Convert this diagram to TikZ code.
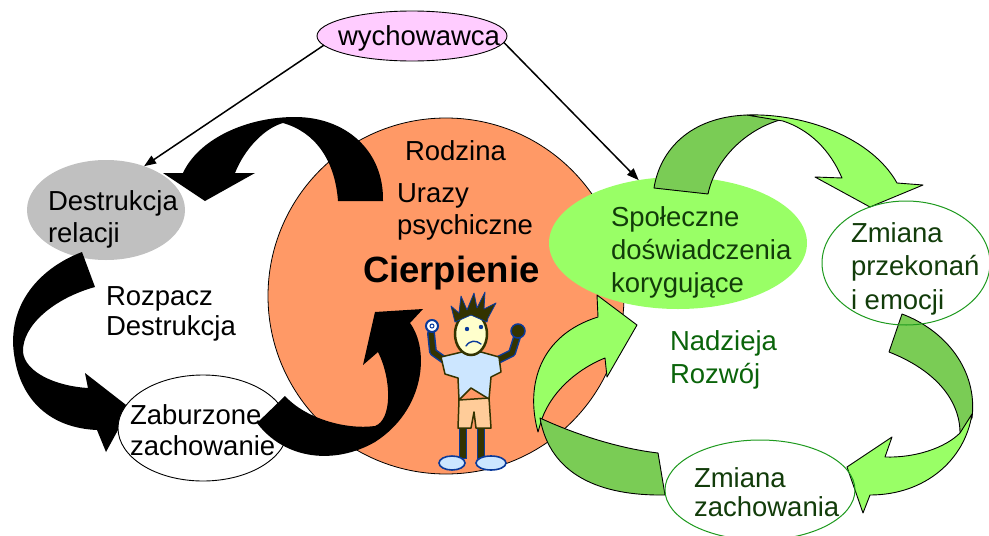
\documentclass[tikz,border=0pt]{standalone}
\usepackage{fontspec}
\setmainfont{Liberation Sans}
\usetikzlibrary{shapes.geometric,arrows.meta}
\definecolor{orangec}{HTML}{FF9966}
\definecolor{pinkc}{HTML}{FFCCFF}
\definecolor{grayc}{HTML}{C0C0C0}
\definecolor{glight}{HTML}{99FF66}
\definecolor{gdark}{HTML}{7ACC55}
\definecolor{gtext}{HTML}{123C0A}
\definecolor{gmid}{HTML}{0A640A}
\definecolor{gborder}{HTML}{1E9A1E}
\definecolor{figdark}{HTML}{333300}
\definecolor{figblue}{HTML}{0A3A9A}
\definecolor{figface}{HTML}{FFFFCC}
\definecolor{figshirt}{HTML}{CCE6FF}
\definecolor{figshorts}{HTML}{FFCC99}
\tikzset{
  shapeell/.style={ellipse, inner sep=0pt, outer sep=0pt},
  txt/.style={anchor=base west, inner sep=0pt, outer sep=0pt, font=\fontsize{27.5}{33}\selectfont},
  conn/.style={line width=1.5pt, -{Triangle[length=12pt,width=9pt]}},
  blackarrow/.style={fill=black},
  greenlight/.style={fill=glight, draw=black, line width=0.9pt, line join=round},
  greendark/.style={fill=gdark, draw=black, line width=0.9pt, line join=round},
  figline/.style={line join=round, line cap=round},
}
\begin{document}
\begin{tikzpicture}[x=1pt,y=-1pt]
\useasboundingbox (0,0) rectangle (989,536);
\fill[white] (0,0) rectangle (989,536);

% central circle
\node[circle, draw=black, line width=0.8pt, fill=orangec, minimum size=356pt, inner sep=0pt] (circ) at (446,296) {};

% ellipses
\node[shapeell, draw=black, line width=0.9pt, fill=pinkc, minimum width=190pt, minimum height=50pt] (wych) at (412,36) {};
\node[shapeell, fill=grayc, minimum width=158pt, minimum height=100pt] (destr) at (106,210) {};
\node[shapeell, fill=glight, minimum width=258pt, minimum height=132pt] (spol) at (678,243) {};

% top black arrow
\path[blackarrow] (163,173) -- (205,201) -- (255,173) -- (235,173)
  .. controls (245,148) and (265,128) .. (283,123)
  .. controls (315,132) and (335,160) .. (338,201) -- (383,201)
  .. controls (384,150) and (345,117) .. (295,117)
  .. controls (245,117) and (198,140) .. (183,173) -- cycle;

% left black arrow
\path[blackarrow] (82,252) .. controls (35,270) and (5,310) .. (15,360)
  .. controls (22,400) and (50,428) .. (97,430) -- (106,452) -- (130,408) -- (85,373) -- (88,388)
  .. controls (55,386) and (25,372) .. (23,352)
  .. controls (22,325) and (55,298) .. (95,287) -- cycle;

\node[shapeell, draw=black, line width=0.9pt, fill=white, minimum width=170pt, minimum height=106pt] (zab) at (203,428) {};

% bottom black arrow
\path[blackarrow] (285,396) .. controls (305,418) and (345,430) .. (375,426)
  .. controls (392,420) and (392,380) .. (378,352) -- (363,365) -- (375,312) -- (423,309) -- (410,323)
  .. controls (430,350) and (425,410) .. (375,442)
  .. controls (335,465) and (285,460) .. (257,423) -- cycle;

% little figure
\draw[figblue, line width=1pt, fill=figdark] (459,426) rectangle (466,458);
\draw[figblue, line width=1pt, fill=figdark] (477,426) rectangle (484,458);
\draw[figblue, line width=1.6pt, fill=figshirt] (452,463) ellipse [x radius=13pt, y radius=7pt];
\draw[figblue, line width=1.6pt, fill=figshirt] (491,463) ellipse [x radius=15pt, y radius=7pt];
\draw[figdark, line width=1.5pt, fill=figshorts, figline] (459,400) -- (489,398) -- (491,428) -- (476,428) -- (474,412) -- (471,428) -- (458,428) -- cycle;
\draw[figblue, line width=8pt, figline] (447,362) -- (433,352) -- (431,333);
\draw[figdark, line width=5pt, figline] (447,362) -- (433,352) -- (431,333);
\draw[figblue, line width=8pt, figline] (494,362) -- (512,353) -- (517,337);
\draw[figdark, line width=5pt, figline] (494,362) -- (512,353) -- (517,337);
\draw[figdark, line width=1.5pt, fill=figshirt, figline] (441,357) -- (462,352) -- (481,352) -- (499,357) -- (501,372) -- (491,377) -- (489,399) -- (471,388) -- (459,400) -- (458,378) -- (445,374) -- cycle;
\draw[figblue, line width=2pt, fill=white] (432,326) circle (6pt);
\draw[figblue, line width=1pt] (432,326) circle (2pt);
\draw[figblue, line width=1.5pt, fill=figdark] (518,331) circle (7pt);
\draw[figdark, line width=2.5pt, fill=figface] (471,334) ellipse [x radius=16pt, y radius=21pt];
\draw[figblue, line width=0.8pt, fill=figdark, figline] (455,322) -- (451,306) -- (459,313) -- (461,296) -- (467,310) -- (474,293) -- (477,308) -- (485,292) -- (484,309) -- (496,303) -- (488,318) -- (487,322) -- (471,315) -- cycle;
\fill[figblue] (467,329) circle (2.2pt);
\fill[figblue] (481,327) circle (2.2pt);
\draw[figblue, line width=1.4pt, figline] (466,346) .. controls (470,340) and (476,340) .. (481,344);

% top green arrow
\path[greendark] (654,188) .. controls (660,150) and (690,117) .. (747,115) -- (780,120)
  .. controls (745,130) and (715,160) .. (708,194) -- cycle;
\path[greenlight] (747,115) .. controls (805,113) and (872,138) .. (897,183) -- (923,185) -- (870,207) -- (815,177) -- (842,178)
  .. controls (830,150) and (810,130) .. (783,121) -- cycle;

% right green arrow
\path[greendark] (902,314) .. controls (945,330) and (978,370) .. (972,418) -- (960,433)
  .. controls (960,400) and (935,370) .. (889,352) -- cycle;
\path[greenlight] (972,414) .. controls (965,460) and (925,495) .. (870,495) -- (863,513) -- (847,467) -- (892,437) -- (885,457)
  .. controls (915,458) and (945,448) .. (960,433) -- cycle;

% left green arrow
\path[greenlight] (538,432) .. controls (525,385) and (540,335) .. (598,317) -- (597,295) -- (637,325) -- (607,377) -- (605,358)
  .. controls (575,370) and (548,395) .. (540,425) -- cycle;
\path[greendark] (540,418) .. controls (570,432) and (615,448) .. (658,453) -- (665,495)
  .. controls (600,496) and (550,475) .. (540,418) -- cycle;

% outlined ellipses on the right
\node[shapeell, draw=gborder, line width=1pt, minimum width=168pt, minimum height=124pt] (zprz) at (906,263) {};
\node[shapeell, draw=gborder, line width=1pt, minimum width=190pt, minimum height=100pt] (zzach) at (760,490) {};

% texts
\node[txt] (twych) at (338,45) {wychowawca};
\node[txt] (trodz) at (405,160) {Rodzina};
\node[txt] (turA) at (397,202) {Urazy};
\node[txt] (turB) at (397,234) {psychiczne};
\node[txt, font=\fontsize{36.5}{40}\selectfont\bfseries] (tcier) at (363,282) {Cierpienie};
\node[txt] (tdesA) at (48,210) {Destrukcja};
\node[txt] (tdesB) at (48,242) {relacji};
\node[txt] (trozA) at (106,305) {Rozpacz};
\node[txt] (trozB) at (106,335) {Destrukcja};
\node[txt] (tzabA) at (130,424) {Zaburzone};
\node[txt] (tzabB) at (130,455) {zachowanie};
\node[txt, text=gtext] (tspoA) at (611,226) {Społeczne};
\node[txt, text=gtext] (tspoB) at (611,259) {doświadczenia};
\node[txt, text=gtext] (tspoC) at (611,292) {korygujące};
\node[txt, text=gtext] (tzpA) at (851,242) {Zmiana};
\node[txt, text=gtext] (tzpB) at (851,275) {przekonań};
\node[txt, text=gtext] (tzpC) at (851,309) {i emocji};
\node[txt, text=gmid] (tnadA) at (670,350) {Nadzieja};
\node[txt, text=gmid] (tnadB) at (670,383) {Rozwój};
\node[txt, text=gtext] (tzzA) at (694,487) {Zmiana};
\node[txt, text=gtext] (tzzB) at (694,516) {zachowania};

% connectors from wychowawca
\draw[conn] (wych.186) -- (destr.49);
\draw[conn] (wych.-4) -- (spol.122);
\end{tikzpicture}
\end{document}
